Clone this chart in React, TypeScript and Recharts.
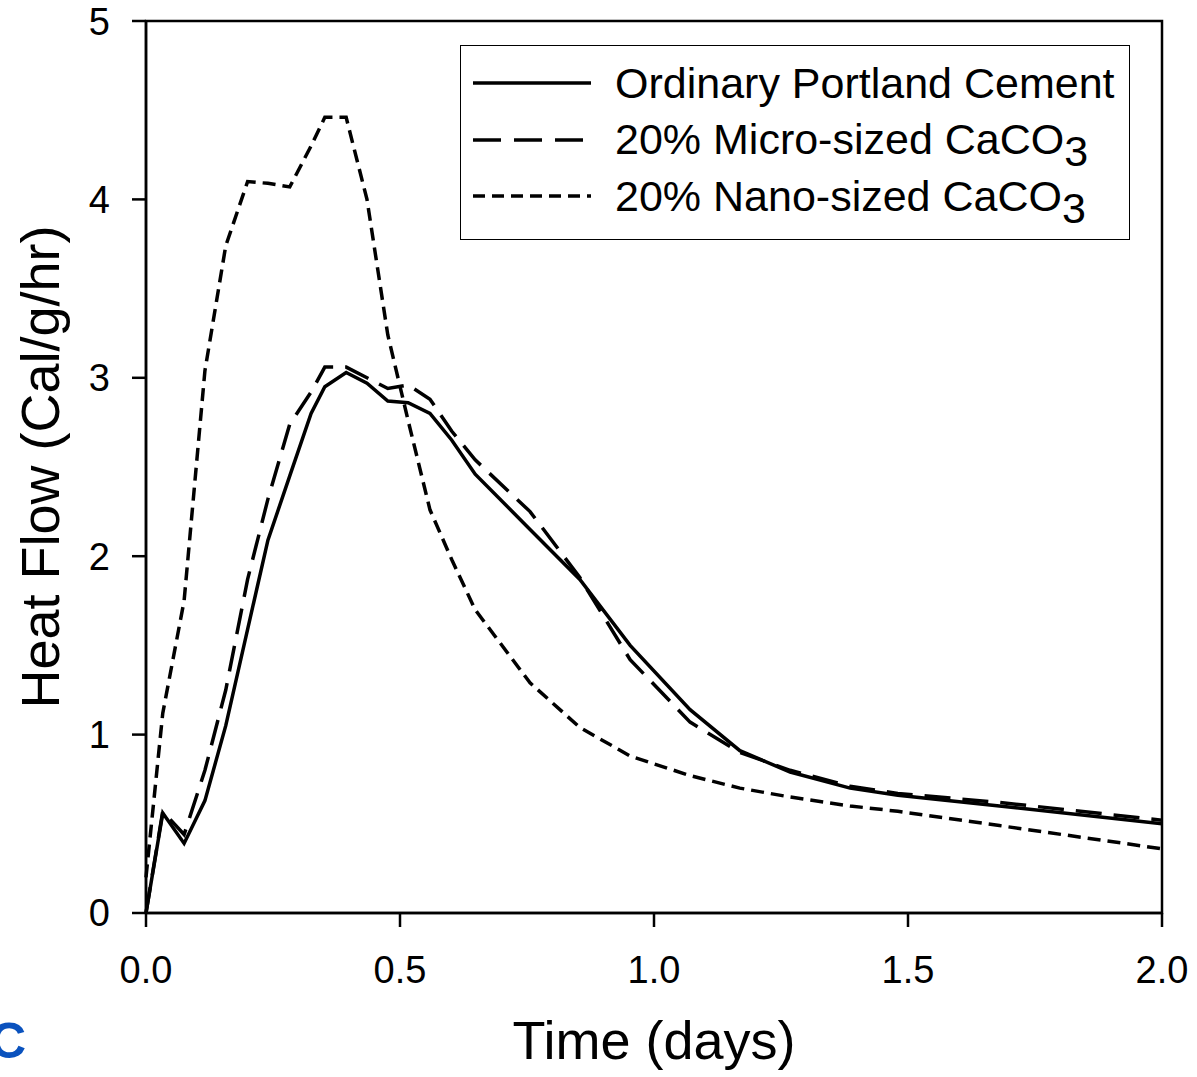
import React from 'react'
import {
    LineChart, Line, XAxis, YAxis, ReferenceArea, Label
} from 'recharts';

// time in days
const timeDays = [
    0, 0.033, 0.075, 0.116, 0.157, 0.2, 0.24, 0.283, 0.325, 0.352, 0.394, 0.435, 0.476, 0.516,
    0.559, 0.602, 0.648, 0.756, 0.854, 0.953, 1.071, 1.169, 1.268, 1.386, 1.48, 1.68, 2.0,
];

const opcFlow = [
    0, 0.56, 0.39, 0.63, 1.05, 1.59, 2.09, 2.45, 2.80, 2.95, 3.03, 2.97, 2.87, 2.86,
    2.80, 2.65, 2.46, 2.15, 1.87, 1.50, 1.14, 0.91, 0.79, 0.70, 0.66, 0.60, 0.50,
];

const microFlow = [
    0, 0.57, 0.44, 0.80, 1.25, 1.87, 2.32, 2.74, 2.92, 3.06, 3.06, 3.00, 2.94, 2.96,
    2.88, 2.70, 2.54, 2.25, 1.88, 1.42, 1.07, 0.90, 0.80, 0.71, 0.67, 0.62, 0.52,
];

const nanoFlow = [
    0.2, 1.12, 1.75, 3.04, 3.74, 4.10, 4.09, 4.07, 4.3, 4.46, 4.46, 4.0, 3.24, 2.76,
    2.26, 1.98, 1.70, 1.29, 1.04, 0.88, 0.77, 0.70, 0.65, 0.60, 0.57, 0.49, 0.36,
];

const xTicks = [0, 0.5, 1, 1.5, 2];
const yTicks = [0, 1, 2, 3, 4, 5];

const seriesNames = ['Ordinary Portland Cement', '20% Micro-sized CaCO', '20% Nano-sized CaCO'];

const data = timeDays.map((t, i) => ({
    t,
    opc: opcFlow[i],
    micro: microFlow[i],
    nano: nanoFlow[i],
}));

const FONT = 'Arial, "Liberation Sans", Helvetica, sans-serif';

const legendRows = [
    { name: seriesNames[0], dash: undefined, sub: false },
    { name: seriesNames[1], dash: '28 13', sub: true },
    { name: seriesNames[2], dash: '12 7', sub: true },
];

const ChartLegend = () => (
    <div style={{
        position: 'absolute', left: 460, top: 45,
        border: '1.5px solid #000', width: 670, height: 195, boxSizing: 'border-box',
        background: '#fff', fontFamily: FONT, fontSize: 43, color: '#000',
        paddingTop: 9,
    }}>
        {legendRows.map((r) => (
            <div key={r.name} style={{ display: 'flex', alignItems: 'center', height: 56.5 }}>
                <svg width={142} height={20} style={{ marginLeft: 12 }}>
                    <line x1={0} y1={10} x2={118} y2={10} stroke="#000" strokeWidth={3.5} strokeDasharray={r.dash} />
                </svg>
                <span style={{ whiteSpace: 'nowrap', lineHeight: 1 }}>
                    {r.name}
                    {r.sub && <sub style={{ fontSize: 43, verticalAlign: '-0.28em', lineHeight: 0 }}>3</sub>}
                </span>
            </div>
        ))}
    </div>
);

const App: React.FC = () => {
    return (
        <div style={{ position: 'absolute', left: 0, top: 0, width: 1197, height: 1077, background: '#fff', overflow: 'hidden' }}>
            <LineChart
                width={1197}
                height={1077}
                data={data}
                margin={{ top: 21, right: 35, bottom: 0, left: 0 }}
                style={{ fontFamily: FONT }}
            >
                <XAxis
                    dataKey="t"
                    type="number"
                    domain={[0, 2]}
                    ticks={xTicks}
                    tickFormatter={(v: number) => v.toFixed(1)}
                    height={164}
                    axisLine={{ stroke: '#000', strokeWidth: 2.5 }}
                    tickLine={{ stroke: '#000', strokeWidth: 2.5 }}
                    tickSize={14}
                    tickMargin={29}
                    tick={{ fill: '#000', fontSize: 38 }}
                >
                    <Label value="Time (days)" position="insideBottom" offset={18} style={{ fill: '#000', fontSize: 54 }} />
                </XAxis>
                <YAxis
                    type="number"
                    domain={[0, 5]}
                    ticks={yTicks}
                    width={146}
                    axisLine={{ stroke: '#000', strokeWidth: 2.5 }}
                    tickLine={{ stroke: '#000', strokeWidth: 2.5 }}
                    tickSize={14}
                    tickMargin={22}
                    tick={{ fill: '#000', fontSize: 38 }}
                >
                    <Label value="Heat Flow (Cal/g/hr)" angle={-90} position="insideLeft" offset={40} style={{ fill: '#000', fontSize: 54, textAnchor: 'middle' }} />
                </YAxis>
                <ReferenceArea x1={0} x2={2} y1={0} y2={5} fill="none" stroke="#000" strokeWidth={2.5} ifOverflow="visible" />
                <Line type="linear" dataKey="opc" name={seriesNames[0]} stroke="#000" strokeWidth={3.5} dot={false} isAnimationActive={false} />
                <Line type="linear" dataKey="micro" name={seriesNames[1]} stroke="#000" strokeWidth={3.5} strokeDasharray="26 12" dot={false} isAnimationActive={false} />
                <Line type="linear" dataKey="nano" name={seriesNames[2]} stroke="#000" strokeWidth={3.5} strokeDasharray="13 7" dot={false} isAnimationActive={false} />
            </LineChart>
            <ChartLegend />
            <div style={{
                position: 'absolute', left: -10, top: 1012, fontFamily: FONT, fontWeight: 'bold',
                fontSize: 50, color: '#0a52be',
            }}>C</div>
        </div>
    )
}

export default App
